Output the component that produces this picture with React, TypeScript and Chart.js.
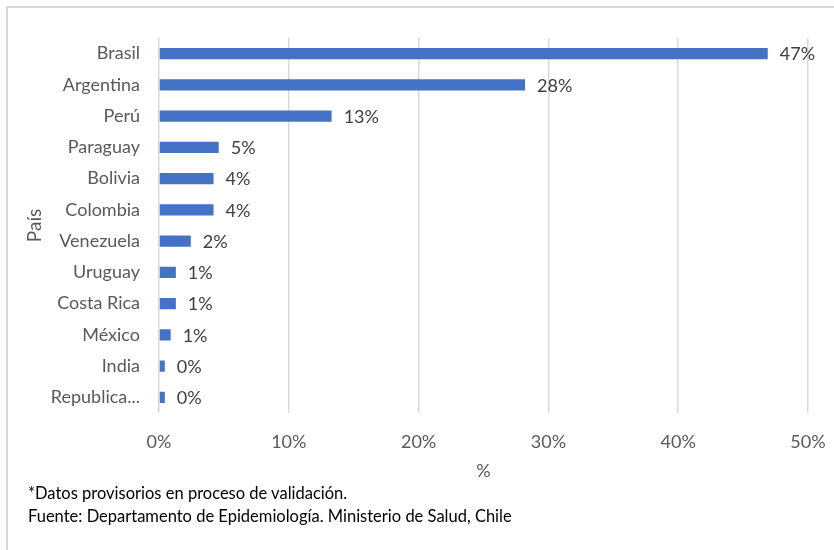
import React, { useEffect, useRef } from "react";
import { Chart, registerables } from "chart.js";

Chart.register(...registerables);

const categories = [
  "Brasil",
  "Argentina",
  "Perú",
  "Paraguay",
  "Bolivia",
  "Colombia",
  "Venezuela",
  "Uruguay",
  "Costa Rica",
  "México",
  "India",
  "Republica...",
];
const values = [46.9, 28.2, 13.3, 4.6, 4.2, 4.2, 2.45, 1.3, 1.3, 0.9, 0.45, 0.45];
const xTicks = [0, 10, 20, 30, 40, 50];
const footnotes = [
  "*Datos provisorios en proceso de validación.",
  "Fuente: Departamento de Epidemiología. Ministerio de Salud, Chile",
];

const FONT = "Lato, 'Open Sans', sans-serif";

const dataLabels = {
  id: "dataLabels",
  afterDatasetsDraw(chart: any) {
    const ctx = chart.ctx;
    const meta = chart.getDatasetMeta(0);
    ctx.save();
    ctx.font = `18px ${FONT}`;
    ctx.fillStyle = "#404040";
    ctx.textAlign = "left";
    ctx.textBaseline = "middle";
    meta.data.forEach((el: any, i: number) => {
      const v = chart.data.datasets[0].data[i] as number;
      ctx.fillText(Math.round(v) + "%", el.x + 12, el.y + 1);
    });
    ctx.restore();
  },
};

export default function App() {
  const ref = useRef<HTMLCanvasElement | null>(null);
  useEffect(() => {
    if (!ref.current) return;
    const chart = new Chart(ref.current, {
      type: "bar",
      data: {
        labels: categories,
        datasets: [
          {
            data: values,
            backgroundColor: "#4472C4",
            borderWidth: 0,
            barPercentage: 0.36,
            categoryPercentage: 1,
          },
        ],
      },
      options: {
        indexAxis: "y",
        responsive: false,
        animation: false,
        devicePixelRatio: 1,
        layout: { padding: { left: 10, top: 38, right: 26, bottom: 12 } },
        plugins: {
          legend: { display: false },
          tooltip: { enabled: false },
          title: { display: false },
        },
        scales: {
          x: {
            min: 0,
            max: 50,
            afterBuildTicks: (s: any) => {
              s.ticks = xTicks.map((v) => ({ value: v }));
            },
            afterFit: (s: any) => {
              s.height = 75;
              s.paddingRight = 0;
              s.paddingLeft = 0;
            },
            grid: { color: "#d9d9d9", lineWidth: 1.5, drawTicks: false },
            border: { display: false },
            ticks: {
              padding: 18,
              color: "#595959",
              font: { family: FONT, size: 18 },
              callback: (v: any) => v + "%",
            },
            title: {
              display: true,
              text: "%",
              color: "#595959",
              font: { family: FONT, size: 18 },
              padding: { top: 0, bottom: 6 },
            },
          },
          y: {
            afterFit: (s: any) => {
              s.width = 149;
            },
            grid: { display: false, drawTicks: false },
            border: { display: false },
            ticks: {
              padding: 19,
              color: "#595959",
              font: { family: FONT, size: 18 },
              autoSkip: false,
            },
            title: {
              display: true,
              text: "País",
              color: "#595959",
              font: { family: FONT, size: 19 },
              padding: { top: 13, bottom: 0 },
            },
          },
        },
      },
      plugins: [dataLabels],
    });
    return () => chart.destroy();
  }, []);

  return (
    <div
      style={{
        position: "fixed",
        left: 0,
        top: 0,
        width: 834,
        height: 550,
        background: "#fff",
        overflow: "hidden",
      }}
    >
      <div
        style={{
          position: "absolute",
          left: 6,
          top: 6,
          width: 900,
          height: 600,
          borderTop: "2px solid #d9d9d9",
          borderLeft: "2px solid #d9d9d9",
        }}
      />
      <canvas
        ref={ref}
        width={834}
        height={500}
        style={{ position: "absolute", left: 0, top: 0, width: 834, height: 500 }}
      />
      {footnotes.map((t, i) => (
        <div
          key={i}
          style={{
            position: "absolute",
            left: 28,
            top: 483 + i * 23,
            fontFamily: FONT,
            fontSize: 16.5,
            lineHeight: "20px",
            color: "#000",
            whiteSpace: "nowrap",
          }}
        >
          {t}
        </div>
      ))}
    </div>
  );
}
